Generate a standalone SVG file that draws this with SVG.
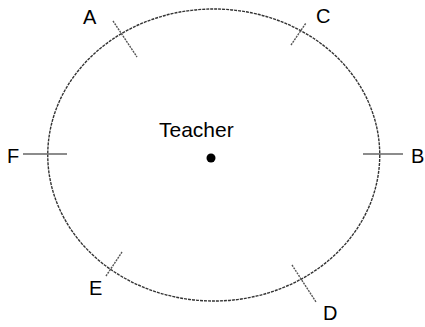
<svg xmlns="http://www.w3.org/2000/svg" width="425" height="327" viewBox="0 0 425 327">
<style>
text{font-family:"Liberation Sans",Arial,sans-serif;font-size:20px;fill:#000}
.ring{fill:none;stroke:#333;stroke-width:1.4;stroke-dasharray:3 1}
.tick{stroke:#555;stroke-width:1.4;stroke-dasharray:2 1}
.htick{stroke:#666;stroke-width:1.6}
</style>
<rect width="425" height="327" fill="#fff"/>
<g id="connectors">
<ellipse id="circle" class="ring" cx="213.75" cy="155" rx="166" ry="146"/>
</g>
<g id="teacher">
<text x="159" y="137" font-size="21" style="font-size:21px">Teacher</text>
<circle cx="211" cy="158" r="4.5" fill="#000"/>
</g>
<g id="nodeA">
<line class="tick" x1="113" y1="21" x2="137" y2="57"/>
<text x="83" y="24">A</text>
</g>
<g id="nodeC">
<line class="tick" x1="291" y1="45" x2="306" y2="23"/>
<text x="316" y="23">C</text>
</g>
<g id="nodeF">
<line class="htick" x1="23" y1="154" x2="67" y2="154"/>
<text x="7" y="163">F</text>
</g>
<g id="nodeB">
<line class="htick" x1="363" y1="154" x2="403" y2="154"/>
<text x="411" y="163">B</text>
</g>
<g id="nodeE">
<line class="tick" x1="106" y1="276" x2="122" y2="252"/>
<text x="89" y="295">E</text>
</g>
<g id="nodeD">
<line class="tick" x1="292" y1="265" x2="316" y2="302"/>
<text x="323" y="320">D</text>
</g>
</svg>
